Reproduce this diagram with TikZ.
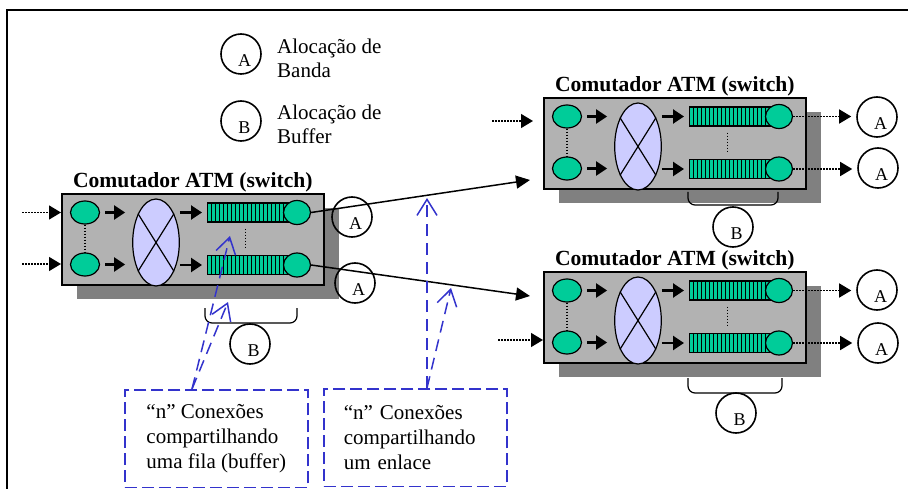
\documentclass[tikz,border=0pt]{standalone}
\usepackage{fontspec}
\setmainfont{Liberation Serif}
\usepackage{tikz}
\usetikzlibrary{
  arrows.meta,
  positioning,
  shapes.geometric
}
\definecolor{verdefila}{RGB}{0, 204, 153}
\definecolor{lilas}{RGB}{204, 204, 255}
\definecolor{cinzacx}{RGB}{178, 178, 178}
\definecolor{cinzasombra}{RGB}{128, 128, 128}
\definecolor{azulnota}{RGB}{51, 51, 204}
\tikzset{
  % Caixa do comutador
  caixa/.style    = {draw, line width=1.6pt, fill=cinzacx, minimum width=262pt,
                     minimum height=91pt, inner sep=0pt},
  sombra/.style   = {fill=cinzasombra},
  titulo/.style   = {font=\fontsize{21.6}{24}\selectfont\bfseries, inner sep=0pt},
  % Portas, matriz e filas
  porta/.style    = {ellipse, draw, line width=1.2pt, fill=verdefila,
                     minimum width=29pt, minimum height=23pt, inner sep=0pt},
  portasai/.style = {porta, minimum width=27pt, minimum height=24pt},
  matriz/.style   = {ellipse, draw, line width=1.2pt, fill=lilas,
                     minimum width=46.6pt, minimum height=87pt, inner sep=0pt},
  cruz/.style     = {line width=1.2pt},
  fila/.style     = {draw, line width=1.2pt, fill=verdefila, minimum width=90pt,
                     minimum height=19pt, inner sep=0pt, anchor=west},
  celula/.style   = {line width=0.8pt},
  % Setas
  seta/.style     = {-{Triangle[length=11pt, width=14pt]}, line width=2.4pt},
  setapont/.style = {-{Triangle[length=12pt, width=14pt]}, line width=1.5pt,
                     dash pattern=on 1.5pt off 1.5pt},
  setaenl/.style  = {-{Triangle[length=14pt, width=13pt]}, line width=1.5pt},
  pontos/.style   = {line width=1.2pt, dash pattern=on 1pt off 2pt},
  chave/.style    = {line width=1.2pt, rounded corners=7pt},
  % Etiquetas
  aloc/.style     = {circle, draw, line width=1.6pt, minimum size=40pt, inner sep=0pt,
                     label={[font=\fontsize{18}{18}\selectfont, xshift=3.5pt, yshift=-7pt]center:#1}},
  legenda/.style  = {font=\fontsize{21}{24}\selectfont, align=left, inner sep=0pt,
                     anchor=north west},
  nota/.style     = {draw=azulnota, line width=1.5pt, dash pattern=on 12pt off 5pt,
                     minimum width=183pt, minimum height=97.5pt, anchor=north west,
                     align=left, font=\fontsize{21}{25}\selectfont},
  setanota/.style = {azulnota, line width=1.5pt, dash pattern=on 12pt off 7pt,
                     -{Straight Barb[length=16pt, width=20pt]}},
}
% comutador: #1 = prefixo, (#2,#3) = canto superior esquerdo
\newcommand{\comutador}[3]{%
  \fill[sombra] (#2+16,#3+15) rectangle ++(262,91);
  \node[caixa, anchor=north west] (#1box) at (#2,#3) {};
  \node[titulo, above=1pt of #1box] (#1tit) {Comutador ATM (switch)};
  % portas de entrada e matriz
  \node[porta] (#1gA) at (#2+24,#3+19.5) {};
  \node[porta] (#1gB) at (#2+24,#3+71.5) {};
  \node[matriz] (#1x) at (#2+95,#3+49.5) {};
  \draw[cruz] (#1x.122) -- (#1x.-58) (#1x.58) -- (#1x.-122);
  % filas
  \node[fila] (#1qA) at (#2+146,#3+19.5) {};
  \node[fila] (#1qB) at (#2+146,#3+72) {};
  \foreach \k in {1,...,21}
    \draw[celula] ([xshift=4pt*\k]#1qA.south west) -- ([xshift=4pt*\k]#1qA.north west)
                  ([xshift=4pt*\k]#1qB.south west) -- ([xshift=4pt*\k]#1qB.north west);
  \node[portasai] (#1oA) at (#2+236,#3+19.5) {};
  \node[portasai] (#1oB) at (#2+236,#3+72) {};
  % setas internas
  \draw[seta, shorten <=5pt, shorten >=7pt] (#1gA.east) -- (#1gA.east -| #1x.west);
  \draw[seta, shorten <=5pt, shorten >=7pt] (#1gB.east) -- (#1gB.east -| #1x.west);
  \draw[seta, shorten >=5pt] (#1qA.west -| #1x.east) -- (#1qA.west);
  \draw[seta, shorten >=5pt] (#1qB.west -| #1x.east) -- (#1qB.west);
  \draw[pontos] (#1gA.south) -- (#1gB.north);
  \draw[pontos, shorten <=6pt, shorten >=6pt] ([xshift=-7pt]#1qA.south) -- ([xshift=-7pt]#1qB.north);
}

\begin{document}
\begin{tikzpicture}[x=1pt, y=-1pt]
  \useasboundingbox (0,0) rectangle (908,489);
  % moldura
  \draw[line width=2pt] (7,489) -- (7,10) -- (908,10);
  % legenda
  \node[aloc=A] (legA) at (241,54) {};
  \node[legenda] (legAt) at (277,39) {Alocação de\\Banda};
  \node[aloc=B] (legB) at (241,121) {};
  \node[legenda] (legBt) at (277,105) {Alocação de\\Buffer};
  % comutadores
  \comutador{esq-}{61}{193}
  \comutador{sup-}{543}{97}
  \comutador{inf-}{543}{271}
  % entradas pontilhadas
  \coordinate (esq-inA) at (22,212.5);
  \coordinate (esq-inB) at (22,264);
  \coordinate (sup-inA) at (492,121);
  \coordinate (inf-inB) at (498,340);
  \draw[setapont] (esq-inA) -- (esq-inA -| esq-box.west);
  \draw[setapont] (esq-inB) -- (esq-inB -| esq-box.west);
  \draw[setapont, shorten >=10pt] (sup-inA) -- (sup-inA -| sup-box.west);
  \draw[setapont] (inf-inB) -- (inf-inB -| inf-box.west);
  % enlaces entre comutadores
  \coordinate (sup-chB) at (530,180);
  \coordinate (inf-chA) at (530,296);
  \draw[setaenl] (esq-oA.east) -- (sup-chB);
  \draw[setaenl] (esq-oB.east) -- (inf-chA);
  \node[aloc=A] (esq-aA) at (352,217) {};
  \node[aloc=A] (esq-aB) at (355,283) {};
  % saidas
  \node[aloc=A] (sup-aA) at (877,117) {};
  \node[aloc=A] (sup-aB) at (878,168) {};
  \node[aloc=A] (inf-aA) at (877,290) {};
  \node[aloc=A] (inf-aB) at (878,343) {};
  \draw[setapont, shorten >=5pt] (sup-oA.east) -- (sup-oA.east -| sup-aA.west);
  \draw[setapont, shorten >=5pt] (sup-oB.east) -- (sup-oB.east -| sup-aB.west);
  \draw[setapont, shorten >=5pt] (inf-oA.east) -- (inf-oA.east -| inf-aA.west);
  \draw[setapont, shorten >=5pt] (inf-oB.east) -- (inf-oB.east -| inf-aB.west);
  % buffers
  \draw[chave] (205,308) -- (205,323) -- (297,323) -- (297,308);
  \draw[chave] (688,192) -- (688,205) -- (778,205) -- (778,192);
  \draw[chave] (688,378) -- (688,393) -- (782,393) -- (782,378);
  \node[aloc=B] (esq-b) at (250,344) {};
  \node[aloc=B] (sup-b) at (733,227) {};
  \node[aloc=B] (inf-b) at (736,413) {};
  % notas
  \node[nota] (nfila) at (124,389) {“n” Conexões\\compartilhando\\uma fila (buffer)};
  \node[nota, text width=143pt, inner xsep=20pt] (nenl) at (323,388) {“n” Conexões\\compartilhando\\um enlace};
  \coordinate (pfila) at (230,236);
  \coordinate (pbuf) at (228,302);
  \coordinate (penlA) at (427,198);
  \coordinate (penlB) at (451,288);
  \draw[setanota] ([xshift=68pt]nfila.north west) -- (pfila);
  \draw[setanota] ([xshift=68pt]nfila.north west) -- (pbuf);
  \draw[setanota] ([xshift=104pt]nenl.north west) -- (penlA);
  \draw[setanota] ([xshift=104pt]nenl.north west) -- (penlB);
\end{tikzpicture}
\end{document}
